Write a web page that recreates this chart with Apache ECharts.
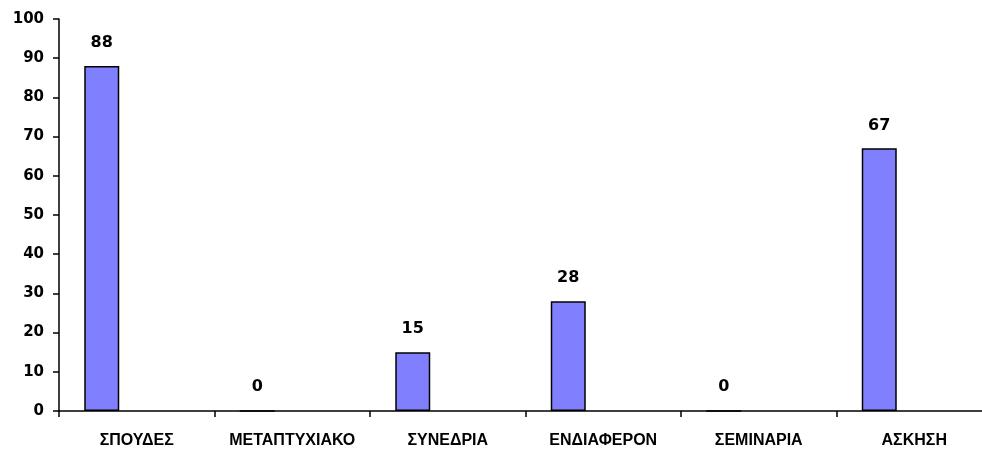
<!DOCTYPE html>
<html>
<head>
<meta charset="utf-8">
<script src="https://cdn.jsdelivr.net/npm/echarts@6/dist/echarts.min.js"></script>
<style>
  html, body { margin: 0; padding: 0; background: #fff; overflow: hidden; }
  /* the drawing surface is a little wider than the window, so the last category runs off the right edge */
  #chart { width: 992px; height: 451px; }
</style>
</head>
<body>
<div id="chart"></div>
<script>
// Categories and counts
const categories = ['ΣΠΟΥΔΕΣ', 'ΜΕΤΑΠΤΥΧΙΑΚΟ', 'ΣΥΝΕΔΡΙΑ', 'ΕΝΔΙΑΦΕΡΟΝ', 'ΣΕΜΙΝΑΡΙΑ', 'ΑΣΚΗΣΗ'];
const values = [88, 0, 15, 28, 0, 67];
// Two empty companion series keep the filled bar in the first slot of each group
const emptySeriesA = [];
const emptySeriesB = [];

const numFont = '"DejaVu Sans", sans-serif';
const catFont = '"Liberation Sans", Arial, sans-serif';

const chart = echarts.init(document.getElementById('chart'), null, { renderer: 'canvas' });
chart.setOption({
  animation: false,
  backgroundColor: '#ffffff',
  grid: { left: 59, top: 19, bottom: 40, right: 0, containLabel: false },
  xAxis: {
    type: 'category',
    data: categories,
    boundaryGap: true,
    axisLine: { lineStyle: { color: '#000', width: 1.5 } },
    axisTick: { show: true, length: 6, alignWithLabel: false, lineStyle: { color: '#000', width: 1.5 } },
    axisLabel: {
      interval: 0,
      margin: 22,
      color: '#000',
      fontFamily: catFont,
      fontWeight: 'bold',
      fontSize: 16
    },
    splitLine: { show: false }
  },
  yAxis: {
    type: 'value',
    min: 0,
    max: 100,
    interval: 10,
    axisLine: { show: true, lineStyle: { color: '#000', width: 1.5 } },
    axisTick: { show: true, length: 6, lineStyle: { color: '#000', width: 1.5 } },
    axisLabel: {
      margin: 15,
      color: '#000',
      fontFamily: numFont,
      fontWeight: 'bold',
      fontSize: 15
    },
    splitLine: { show: false }
  },
  series: [
    {
      type: 'bar',
      data: values,
      barWidth: 35,
      barGap: '0%',
      itemStyle: { color: '#8080FF', borderColor: '#000', borderWidth: 1.5 },
      label: {
        show: true,
        position: 'top',
        distance: 15,
        color: '#000',
        fontFamily: numFont,
        fontWeight: 'bold',
        fontSize: 16
      }
    },
    { type: 'bar', data: emptySeriesA, barWidth: 35, barGap: '0%' },
    { type: 'bar', data: emptySeriesB, barWidth: 35, barGap: '0%' }
  ]
});
</script>
</body>
</html>
